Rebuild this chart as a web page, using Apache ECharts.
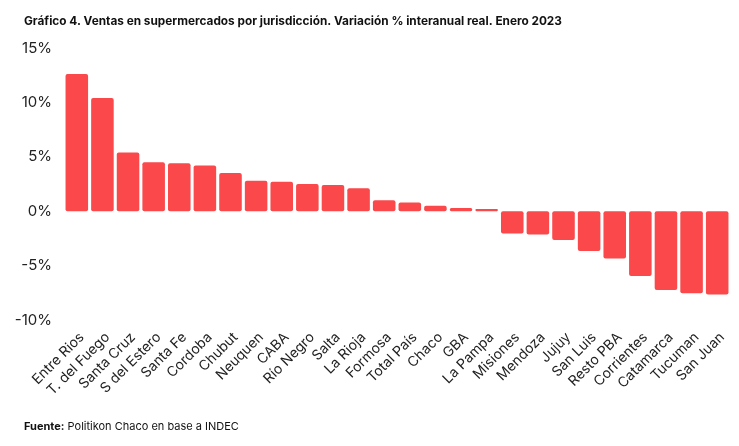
<!DOCTYPE html>
<html lang="es">
<head>
    <meta charset="UTF-8">
    <title>Ventas en supermercados por jurisdicción</title>
    <script src="https://cdn.jsdelivr.net/npm/echarts@6/dist/echarts.min.js"></script>
    <style>
        body { margin: 0; background: #fff; }
        #chart { width: 739px; height: 446px; }
    </style>
</head>
<body>
<div id="chart"></div>
<script type="text/javascript">
    const jurisdicciones = ['Entre Rios', 'T. del Fuego', 'Santa Cruz', 'S del Estero', 'Santa Fe', 'Cordoba',
        'Chubut', 'Neuquen', 'CABA', 'Río Negro', 'Salta', 'La Rioja', 'Formosa', 'Total País', 'Chaco',
        'GBA', 'La Pampa', 'Misiones', 'Mendoza', 'Jujuy', 'San Luis', 'Resto PBA', 'Corrientes',
        'Catamarca', 'Tucuman', 'San Juan'];
    const variacion = [12.6, 10.4, 5.4, 4.5, 4.4, 4.2, 3.5, 2.8, 2.7, 2.5, 2.4, 2.1, 1.0, 0.8, 0.5,
        0.3, 0.2, -2.05, -2.15, -2.65, -3.65, -4.35, -5.95, -7.25, -7.55, -7.65];
    const yTicks = [-10, -5, 0, 5, 10, 15];

    let chart = echarts.init(document.getElementById('chart'));
    chart.setOption({
        animation: false,
        textStyle: { fontFamily: 'Inter' },
        title: [
            {
                text: 'Gráfico 4. Ventas en supermercados por jurisdicción. Variación % interanual real. Enero 2023',
                left: 19, top: 10,
                textStyle: { fontSize: 11.8, fontWeight: 'bold', color: '#111', fontFamily: 'Inter' }
            },
            {
                text: '{b|Fuente:} Politikon Chaco en base a INDEC',
                left: 19, top: 416,
                textStyle: {
                    fontSize: 11, fontWeight: 'normal', color: '#111', fontFamily: 'Inter',
                    rich: { b: { fontWeight: 'bold', fontSize: 11, color: '#111', fontFamily: 'Inter' } }
                }
            }
        ],
        grid: { left: 64, right: 9, top: 48, bottom: 126 },
        xAxis: {
            type: 'category',
            data: jurisdicciones,
            axisLine: { show: false },
            axisTick: { show: false },
            axisLabel: {
                interval: 0, rotate: 45, fontSize: 14, color: '#222', margin: 10,
                verticalAlign: 'top'
            }
        },
        yAxis: {
            type: 'value',
            min: yTicks[0],
            max: yTicks[yTicks.length - 1],
            interval: 5,
            splitLine: { show: false },
            axisLabel: {
                fontSize: 15, color: '#222', margin: 12,
                formatter: v => v + '%'
            }
        },
        series: [{
            type: 'bar',
            data: variacion,
            barCategoryGap: '12%',
            itemStyle: { color: '#FA484B', borderRadius: 2 }
        }]
    });
</script>
</body>
</html>
